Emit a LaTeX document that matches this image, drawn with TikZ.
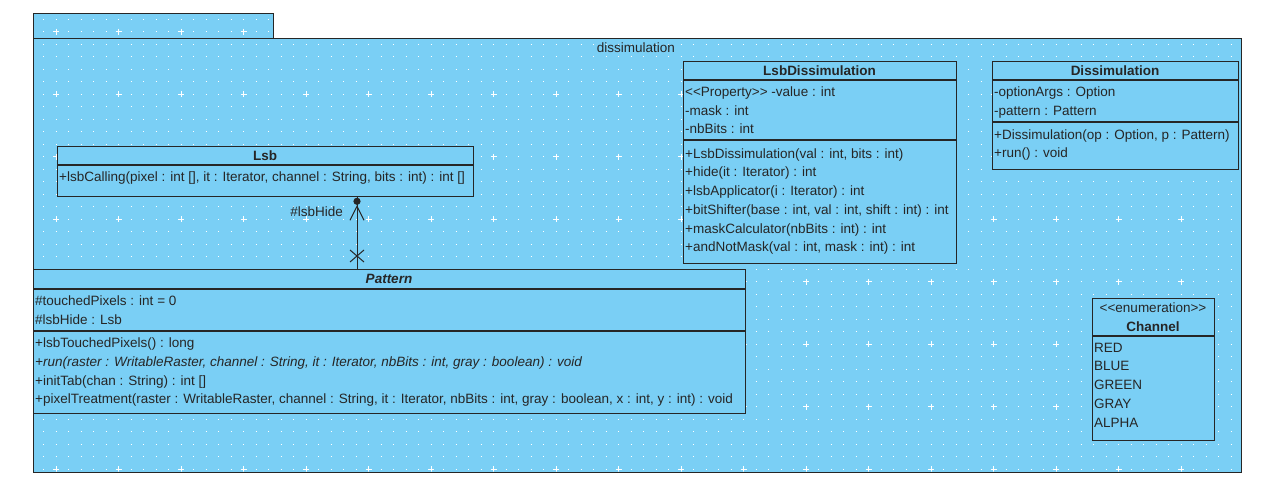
\documentclass[tikz,border=0pt]{standalone}
\usepackage{fontspec}
\setmainfont{Liberation Sans}
\usetikzlibrary{calc}
\definecolor{umlfill}{HTML}{7ACFF5}
\definecolor{umlline}{HTML}{262626}
\newcommand{\umlfont}{\fontsize{13.5}{16}\selectfont}
\tikzset{
  every node/.style={font=\umlfont, text=umlline},
  pkg/.style={draw=umlline, line width=1pt, fill=umlfill},
  classbox/.style={draw=umlline, line width=1.3pt, fill=umlfill, anchor=north west, inner sep=0pt},
  sep/.style={draw=umlline, line width=1.3pt},
  row/.style={anchor=west, inner sep=0pt, text height=9.4pt, text depth=0pt},
  title/.style={anchor=center, inner sep=0pt, text height=9.4pt, text depth=0pt, font=\umlfont\bfseries},
  dotrow/.style={white, line width=1pt, dash pattern=on 1pt off 11.5pt},
  crossh/.style={white, line width=1pt, dash pattern=on 6pt off 56.5pt},
  conn/.style={draw=umlline, line width=1pt},
}
\begin{document}
\begin{tikzpicture}[x=1pt,y=-1pt]
\useasboundingbox (0,0) rectangle (1262,490);
% package
\path[pkg] (33,13) rectangle (273,38);
\path[pkg] (33,38) rectangle (1241,472);
\begin{scope}
  \clip (33.5,13.5) rectangle (272.5,38) (33.5,38) rectangle (1240.5,471.5);
  \foreach \j in {0,...,36} {
    \draw[dotrow] (43,{19+12.5*\j}) -- (1241,{19+12.5*\j});
  }
  \foreach \j in {0,...,7} {
    \draw[crossh] (53,{31.5+62.5*\j}) -- (1241,{31.5+62.5*\j});
  }
  \foreach \i in {0,...,19} {
    \draw[white, line width=1pt, dash pattern=on 6pt off 56.5pt] ({56+62.5*\i},28.5) -- ({56+62.5*\i},472);
  }
\end{scope}
\draw[umlline, line width=1pt] (33,13) rectangle (273,38);
\draw[umlline, line width=1pt] (33,38) rectangle (1241,472);
\node[inner sep=0pt, text height=9.4pt, text depth=0pt] (pkglabel) at (636,48) {dissimulation};

% Lsb
\node[classbox, minimum width=416pt, minimum height=50pt] (lsb) at (57,146) {};
\draw[sep] (57,165) -- (473,165);
\node[title] (lsbT) at (265,156) {Lsb};
\node[row] (lsbM1) at (59,177) {+lsbCalling(pixel : int [], it : Iterator, channel : String, bits : int) : int []};

% LsbDissimulation
\node[classbox, minimum width=273pt, minimum height=202pt] (lsbd) at (683,61) {};
\draw[sep] (683,80) -- (956,80);
\draw[sep] (683,140) -- (956,140);
\node[title] (lsbdT) at (819.5,70.5) {LsbDissimulation};
\node[row] (lsbdA1) at (685,92) {<{}<Property>{}> -value : int};
\node[row] (lsbdA2) at (685,111) {-mask : int};
\node[row] (lsbdA3) at (685,129) {-nbBits : int};
\node[row] (lsbdM1) at (685,154) {+LsbDissimulation(val : int, bits : int)};
\node[row] (lsbdM2) at (685,172) {+hide(it : Iterator) : int};
\node[row] (lsbdM3) at (685,191) {+lsbApplicator(i : Iterator) : int};
\node[row] (lsbdM4) at (685,210) {+bitShifter(base : int, val : int, shift : int) : int};
\node[row] (lsbdM5) at (685,229) {+maskCalculator(nbBits : int) : int};
\node[row] (lsbdM6) at (685,247) {+andNotMask(val : int, mask : int) : int};

% Dissimulation
\node[classbox, minimum width=246pt, minimum height=108pt] (dis) at (992,61) {};
\draw[sep] (992,80) -- (1238,80);
\draw[sep] (992,122) -- (1238,122);
\node[title] (disT) at (1115,70.5) {Dissimulation};
\node[row] (disA1) at (994,92) {-optionArgs : Option};
\node[row] (disA2) at (994,111) {-pattern : Pattern};
\node[row] (disM1) at (994,135) {+Dissimulation(op : Option, p : Pattern)};
\node[row] (disM2) at (994,153) {+run() : void};

% Pattern
\node[classbox, minimum width=712pt, minimum height=144pt] (pat) at (33,269) {};
\draw[sep] (33,289) -- (745,289);
\draw[sep] (33,331) -- (745,331);
\node[title, font=\umlfont\bfseries\itshape] (patT) at (389,279) {Pattern};
\node[row] (patA1) at (35,301) {\#touchedPixels : int = 0};
\node[row] (patA2) at (35,320) {\#lsbHide : Lsb};
\node[row] (patM1) at (35,343) {+lsbTouchedPixels() : long};
\node[row, font=\umlfont\itshape] (patM2) at (35,362) {+run(raster : WritableRaster, channel : String, it : Iterator, nbBits : int, gray : boolean) : void};
\node[row] (patM3) at (35,381) {+initTab(chan : String) : int []};
\node[row] (patM4) at (35,399) {+pixelTreatment(raster : WritableRaster, channel : String, it : Iterator, nbBits : int, gray : boolean, x : int, y : int) : void};

% Channel
\node[classbox, minimum width=122pt, minimum height=142pt] (chan) at (1092,298) {};
\draw[sep] (1092,336) -- (1214,336);
\node[inner sep=0pt, text height=9.4pt, text depth=0pt] (chanS) at (1153,308) {<{}<enumeration>{}>};
\node[title] (chanT) at (1153,327) {Channel};
\node[row] (chanE1) at (1094,348) {RED};
\node[row] (chanE2) at (1094,366) {BLUE};
\node[row] (chanE3) at (1094,385) {GREEN};
\node[row] (chanE4) at (1094,404) {GRAY};
\node[row] (chanE5) at (1094,423) {ALPHA};

% association Pattern -> Lsb
\coordinate (lsbEnd) at (lsb.south -| 357,0);
\coordinate (patEnd) at (pat.north -| 357,0);
\draw[conn] (lsbEnd) -- (patEnd);
\fill[umlline] ($(lsbEnd)+(0,4)$) circle (3.6pt);
\draw[conn] ($(lsbEnd)+(-7,23)$) -- ($(lsbEnd)+(0,9)$) -- ($(lsbEnd)+(7,23)$);
\draw[conn] ($(patEnd)+(-7,-19)$) -- ($(patEnd)+(7,-7)$);
\draw[conn] ($(patEnd)+(-7,-7)$) -- ($(patEnd)+(7,-19)$);
\node[inner sep=0pt, text height=9.4pt, text depth=0pt, anchor=east] (roleLbl) at (343,212) {\#lsbHide};
\end{tikzpicture}
\end{document}
